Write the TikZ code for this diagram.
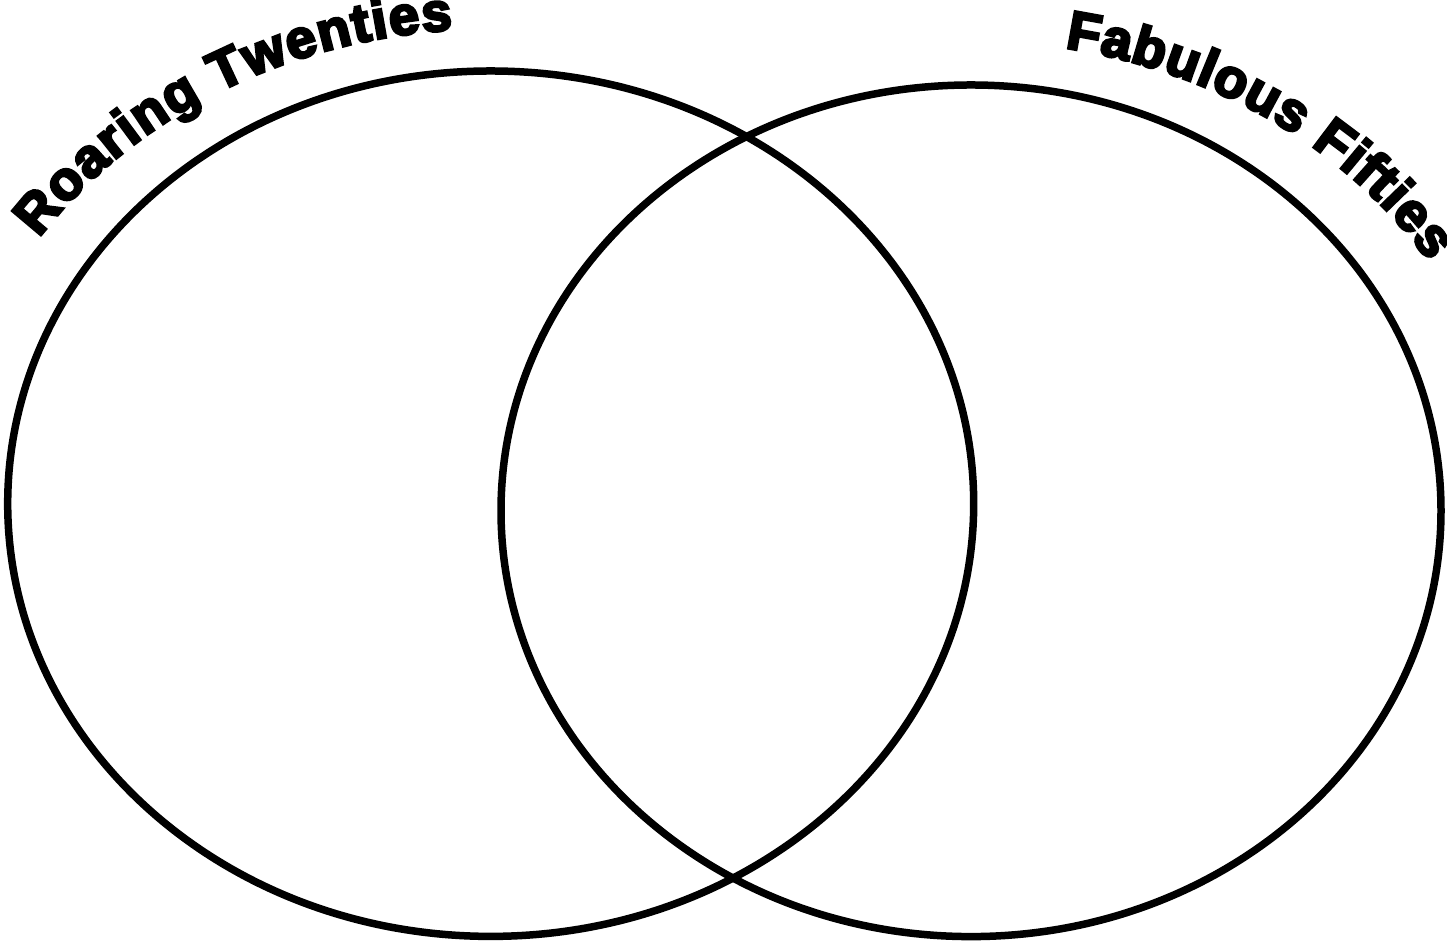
\documentclass[tikz,border=0pt]{standalone}
\usepackage{fontspec}
\newfontfamily\titlefont[FakeBold=5]{Liberation Sans Bold}
\usetikzlibrary{decorations.text}
\tikzset{
  venn/.style={draw=black, line width=0.15cm},
  arctitle/.style={decorate, decoration={text along path, text align=fit to path, raise=0pt}}
}
\begin{document}
\begin{tikzpicture}[x=0.02cm, y=0.02cm]
\useasboundingbox (0,0) rectangle (1447,945);
\fill[white] (0,0) rectangle (1447,945);
% circles
\coordinate (lc) at (490.7,441.3);
\coordinate (rc) at (971,434.2);
\draw[venn] (lc) ellipse [x radius=483, y radius=432.7];
\draw[venn] (rc) ellipse [x radius=470, y radius=425.8];
% titles
\path[arctitle, decoration={text={|\titlefont\fontsize{31}{36}\selectfont|Roaring Twenties}}]
  (lc) ++(146:545 and 475) arc[start angle=146, end angle=94, x radius=545, y radius=475];
\path[arctitle, decoration={text={|\titlefont\fontsize{31}{36}\selectfont|Fabulous Fifties}}]
  (rc) ++(80:540 and 470) arc[start angle=80, end angle=32, x radius=540, y radius=470];
\end{tikzpicture}
\end{document}
